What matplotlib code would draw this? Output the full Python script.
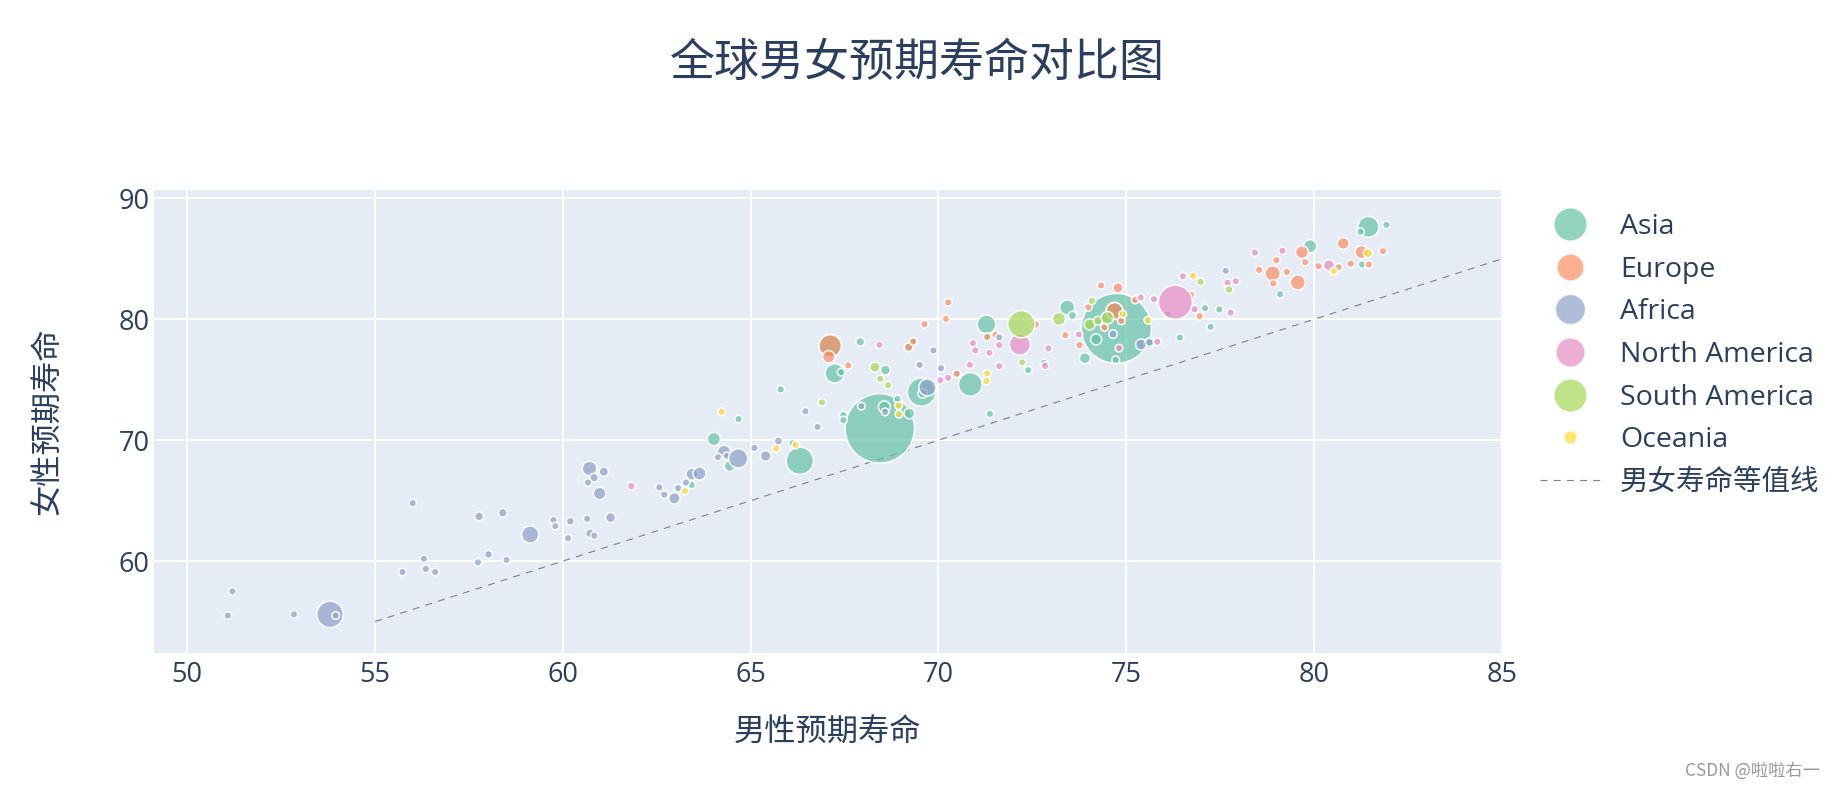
import numpy as np
import matplotlib
matplotlib.use("Agg")
import matplotlib.pyplot as plt
from matplotlib.lines import Line2D
from matplotlib.colors import to_rgba

plt.rcParams['font.family'] = ['Open Sans', 'Noto Sans CJK SC', 'DejaVu Sans']
plt.rcParams['lines.scale_dashes'] = False

# ---------------- data (male LE, female LE, population in millions) ----------------
continents = ["Asia", "Europe", "Africa", "North America", "South America", "Oceania"]

asia_male = [74.74, 68.44, 69.55, 66.31, 70.85, 67.12, 81.45, 67.24, 71.28, 74.69, 73.43, 64.02, 79.9,
             68.56, 73.9, 74.2, 64.44, 69.23, 75.6, 68.59, 69.58, 67.92, 69.21, 73.57, 70.49, 77.25,
             72.81, 81.28, 72.39, 74.72, 77.1, 63.43, 64.68, 65.8, 66.12, 67.41, 67.47, 67.47, 68.91,
             69.33, 71.37, 71.3, 76.43, 77.48, 79.1, 81.24, 81.93]
asia_female = [79.25, 70.98, 73.98, 68.3, 74.62, 77.81, 87.65, 75.53, 79.58, 80.7, 80.98, 70.1, 86.05,
               72.76, 76.79, 78.34, 67.86, 72.22, 78.0, 75.8, 73.87, 78.14, 77.7, 80.32, 75.5, 79.38,
               76.4, 84.54, 75.8, 76.65, 80.93, 66.3, 71.75, 74.2, 69.74, 75.63, 72.08, 71.66, 73.42,
               78.17, 72.18, 78.55, 78.5, 80.82, 82.08, 87.24, 87.82]
asia_pop = [1400, 1380, 230, 215, 160, 145, 125, 107, 100, 80, 65, 50, 50,
            40, 35, 35, 33, 33, 30, 28, 25, 22, 22, 20, 16, 14,
            10, 10, 9, 9, 9, 8, 8, 8, 7, 6, 7, 7, 8,
            8, 7, 8, 8, 8, 8, 7, 8]

europe_male = [67.12, 67.08, 67.6, 69.21, 69.33, 69.63, 70.2, 70.26, 70.49, 71.3, 71.52, 72.59, 73.38,
               73.76, 73.99, 74.33, 74.78, 74.69, 74.42, 74.87, 75.24, 76.73, 76.96, 78.54, 79.0, 78.9,
               78.92, 79.28, 79.57, 79.68, 79.77, 80.12, 80.66, 80.78, 80.98, 81.27, 81.46, 81.84]
europe_female = [77.81, 76.9, 76.19, 77.7, 78.17, 79.6, 80.04, 81.4, 75.5, 78.55, 78.72, 79.58, 78.7,
                 77.87, 81.0, 82.8, 82.6, 80.7, 79.33, 79.88, 81.61, 82.03, 80.27, 84.09, 84.9, 83.8,
                 82.97, 83.93, 83.05, 85.56, 84.73, 84.4, 84.3, 86.28, 84.6, 85.56, 84.54, 85.64]
europe_pop = [145, 44, 12, 22, 8, 12, 9, 8, 16, 8, 8, 16, 12,
              8, 9, 8, 29, 80, 7, 8, 8, 8, 7, 8, 12, 67,
              9, 12, 65, 47, 12, 8, 8, 40, 10, 50, 8, 12]

africa_male = [51.2, 51.08, 52.84, 53.8, 53.95, 56.0, 55.73, 56.3, 56.35, 56.6, 57.77, 58.4, 57.74,
               58.02, 58.5, 59.13, 59.75, 59.8, 60.2, 60.65, 60.14, 60.72, 60.84, 60.71, 61.09, 60.83,
               60.67, 60.98, 61.27, 62.57, 62.7, 62.97, 63.07, 63.28, 63.44, 63.64, 64.29, 64.13, 64.37,
               64.67, 65.1, 65.4, 65.74, 66.46, 66.78, 67.95, 68.58, 69.87, 69.5, 70.07, 69.71, 71.62,
               74.65, 75.4, 75.62, 76.11, 77.65]
africa_female = [57.5, 55.5, 55.6, 55.6, 55.5, 64.8, 59.1, 60.2, 59.35, 59.1, 63.7, 64.0, 59.9,
                 60.55, 60.1, 62.2, 63.4, 62.9, 63.3, 63.5, 61.9, 62.3, 62.1, 67.66, 67.4, 66.9,
                 66.5, 65.6, 63.6, 66.1, 65.5, 65.2, 66.04, 66.5, 67.2, 67.25, 69.04, 68.6, 68.7,
                 68.5, 69.37, 68.7, 69.93, 72.4, 71.1, 72.82, 72.35, 77.43, 76.24, 75.96, 74.37, 78.5,
                 78.78, 77.92, 78.1, 80.41, 84.01]
africa_pop = [6, 6, 12, 200, 6, 6, 14, 6, 8, 16, 22, 22, 6,
              18, 14, 85, 12, 16, 18, 7, 14, 22, 16, 61, 25, 22,
              5, 45, 29, 10, 10, 37, 9, 7, 42, 50, 50, 6, 8,
              107, 6, 33, 20, 7, 16, 8, 7, 7, 8, 9, 85, 7,
              20, 35, 20, 7, 8]

namerica_male = [61.82, 68.43, 70.05, 70.26, 70.84, 70.92, 70.98, 71.36, 71.62, 71.62, 72.17, 72.84, 72.93,
                 73.74, 74.81, 75.39, 75.74, 75.83, 76.31, 76.82, 77.78, 76.51, 77.7, 77.92, 78.43, 79.16, 80.4]
namerica_female = [66.2, 77.89, 74.97, 75.16, 76.24, 78.03, 77.43, 77.23, 77.87, 76.13, 77.92, 76.15, 77.6,
                   78.75, 77.62, 81.81, 81.67, 78.14, 81.42, 80.84, 80.55, 83.57, 83.02, 83.16, 85.53, 85.67, 84.48]
namerica_pop = [18, 12, 8, 8, 9, 10, 12, 15, 7, 8, 128, 7, 12,
                8, 8, 8, 8, 7, 331, 9, 8, 8, 8, 8, 8, 8, 35]

samerica_male = [66.9, 68.31, 68.45, 68.66, 72.21, 72.23, 73.21, 74.03, 74.25, 74.5, 74.09, 76.98, 77.74]
samerica_female = [73.13, 76.05, 75.08, 74.56, 79.6, 76.44, 80.04, 79.58, 79.88, 80.13, 81.53, 83.1, 82.47]
samerica_pop = [7, 30, 7, 16, 212, 10, 50, 35, 22, 45, 7, 8, 18]

oceania_male = [63.25, 64.23, 65.68, 66.2, 68.94, 68.95, 71.3, 71.28, 74.91, 75.58, 76.78, 80.53, 81.44]
oceania_female = [65.8, 72.35, 69.32, 69.6, 72.87, 72.16, 75.53, 74.89, 80.43, 79.93, 83.6, 83.99, 85.48]
oceania_pop = [9, 6, 7, 7, 7, 7, 7, 7, 7, 7, 8, 10, 25]

equal_line = [55, 85]

x_ticks = [50, 55, 60, 65, 70, 75, 80, 85]
y_ticks = [60, 70, 80, 90]

title_text = "全球男女预期寿命对比图"
x_label = "男性预期寿命"
y_label = "女性预期寿命"
line_label = "男女寿命等值线"
watermark = "CSDN @啦啦右一"

# ---------------- styling ----------------
colors = {"Asia": "#66c2a5", "Europe": "#fc8d62", "Africa": "#8da0cb",
          "North America": "#e78ac3", "South America": "#a6d854", "Oceania": "#ffd92f"}
series = {
    "Asia": (asia_male, asia_female, asia_pop),
    "Europe": (europe_male, europe_female, europe_pop),
    "Africa": (africa_male, africa_female, africa_pop),
    "North America": (namerica_male, namerica_female, namerica_pop),
    "South America": (samerica_male, samerica_female, samerica_pop),
    "Oceania": (oceania_male, oceania_female, oceania_pop),
}

DPI = 100
W, H = 1835, 788
TXT = "#2a3f5f"
R_MAX_PX = 35.0
POP_MAX = 1400.0
R_MIN_PX = 3.8


def sizes(pop):
    r = R_MAX_PX * np.sqrt(np.asarray(pop, float) / POP_MAX)
    r = np.maximum(r, R_MIN_PX)
    d_pt = 2 * r * 72.0 / DPI
    return d_pt ** 2


fig = plt.figure(figsize=(W / DPI, H / DPI), dpi=DPI)
L, R, T, B = 153.5, 1501.7, 190.0, 653.0
ax = fig.add_axes([L / W, 1 - B / H, (R - L) / W, (B - T) / H])
ax.set_facecolor("#e5ecf6")
for s in ax.spines.values():
    s.set_visible(False)
ax.set_axisbelow(True)
ax.grid(True, color="white", linewidth=1.5)

for cont in continents:
    xm, yf, pp = series[cont]
    ax.scatter(xm, yf, s=sizes(pp), facecolors=to_rgba(colors[cont], 0.7),
               edgecolors=to_rgba("white", 0.9), linewidths=1.2, zorder=3)

ax.plot(equal_line, equal_line, color="gray", linewidth=0.8,
        linestyle=(0, (5, 4.5)), zorder=2)

ax.set_xlim(49.1, 85.0)
ax.set_ylim(52.4, 90.7)
ax.set_xticks(x_ticks)
ax.set_yticks(y_ticks)
ax.tick_params(length=0, labelsize=19.5, labelcolor=TXT)
ax.tick_params(axis="x", pad=6)
ax.tick_params(axis="y", pad=3)

ax.set_xlabel(x_label, fontsize=22.5, color=TXT)
ax.xaxis.set_label_coords(0.5, (B - 733.8) / (B - T))
ax.xaxis.label.set_va("center")
ax.set_ylabel(y_label, fontsize=22.5, color=TXT)
ax.yaxis.set_label_coords((49 - L) / (R - L), 0.5)
ax.yaxis.label.set_va("center")

fig.suptitle(title_text, x=0.5, y=1 - 64.4 / H, va="center", fontsize=32.4, color=TXT)

# legend
leg_sizes = {"Asia": 23.8, "Europe": 19.4, "Africa": 21.6, "North America": 20.9,
             "South America": 23.8, "Oceania": 9.4}
handles = []
for cont in continents:
    handles.append(Line2D([], [], linestyle="none", marker="o", markersize=leg_sizes[cont],
                          markerfacecolor=to_rgba(colors[cont], 0.7),
                          markeredgecolor=to_rgba("white", 0.7), markeredgewidth=1.0,
                          label=cont))
handles.append(Line2D([], [], color="gray", linewidth=0.8, linestyle=(0, (5, 4.5)),
                      label=line_label))
fs_leg = 20.5
fs_px = fs_leg * DPI / 72
leg = fig.legend(handles=handles, loc="upper left",
                 bbox_to_anchor=(1540 / W, 1 - 213 / H),
                 frameon=False, fontsize=fs_leg, borderpad=0, borderaxespad=0,
                 handlelength=60 / fs_px, handletextpad=20 / fs_px, labelspacing=0.515)
for t in leg.get_texts():
    t.set_color(TXT)

fig.text(1820 / W, 1 - 771 / H, watermark, ha="right", va="center",
         fontsize=12.4, color="#999999", family=["Noto Sans CJK SC", "DejaVu Sans"])

fig.savefig("out.png", dpi=DPI)
